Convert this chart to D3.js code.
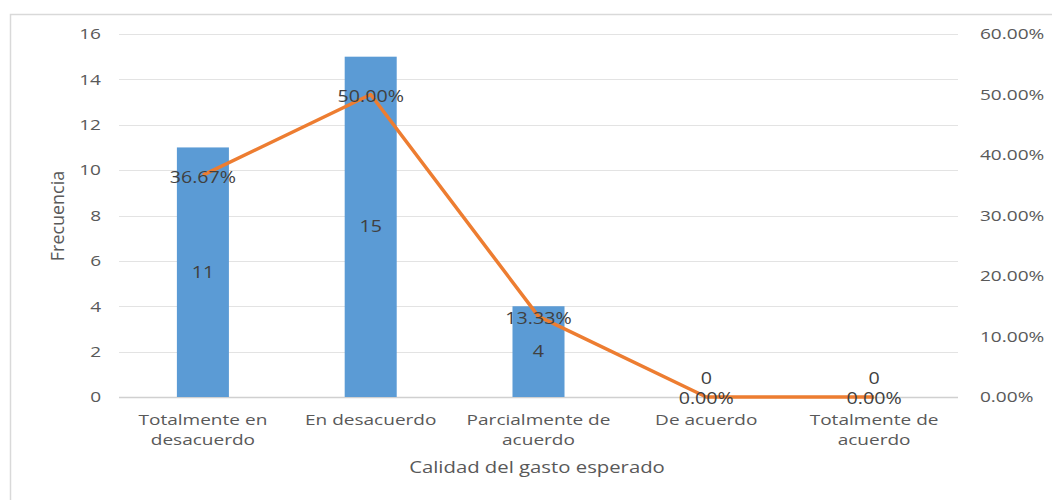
<!DOCTYPE html>
<html><head><meta charset="utf-8">
<script src="https://cdn.jsdelivr.net/npm/d3@7"></script>
<style>body{margin:0;background:#fff}svg{font-family:"Open Sans","Liberation Sans",sans-serif}</style>
</head><body><svg id="c" width="1052" height="500"></svg>
<script>
const categories = [["Totalmente en","desacuerdo"],["En desacuerdo"],["Parcialmente de","acuerdo"],["De acuerdo"],["Totalmente de","acuerdo"]];
const frecuencia = [11, 15, 4, 0, 0];
const porcentaje = [0.3667, 0.5, 0.1333, 0, 0];
const leftTicks = [0, 2, 4, 6, 8, 10, 12, 14, 16];
const rightTicks = [0, 0.1, 0.2, 0.3, 0.4, 0.5, 0.6];

const S = 1.27; // horizontal stretch of the reference's text
function stretch(sel){
  sel.each(function(){
    const t = d3.select(this);
    const x = +t.attr("x") || 0;
    t.attr("transform",`translate(${x*(1-S)},0) scale(${S},1)`);
  });
}

const svg = d3.select("#c");
const m = {l:119, r:958, t:34, b:397};
svg.append("rect").attr("x",10.5).attr("y",14.5).attr("width",1060).attr("height",500)
  .attr("fill","none").attr("stroke","#d9d9d9").attr("stroke-width",1.5);

const x = d3.scaleBand().domain(d3.range(categories.length)).range([m.l,m.r]).paddingInner(0.69).paddingOuter(0.345);
const y = d3.scaleLinear().domain([0,16]).range([m.b,m.t]);
const y2 = d3.scaleLinear().domain([0,0.6]).range([m.b,m.t]);
const xc = i => x(i) + x.bandwidth()/2;

// gridlines
svg.append("g").selectAll("line").data(leftTicks).join("line")
  .attr("x1",m.l).attr("x2",m.r).attr("y1",d=>Math.round(y(d))+0.5).attr("y2",d=>Math.round(y(d))+0.5)
  .attr("stroke",d=>d===0?"#d0d0d0":"#e3e3e3").attr("stroke-width",d=>d===0?1.5:1);

// left axis
const gl = svg.append("g").attr("transform",`translate(${m.l},0)`)
  .call(d3.axisLeft(y).tickValues(leftTicks).tickSize(0).tickPadding(18));
gl.select(".domain").remove();
gl.selectAll("text").attr("fill","#595959").attr("font-size",15).attr("font-family","'Open Sans',sans-serif").call(stretch);

// right axis
const gr = svg.append("g").attr("transform",`translate(${m.r},0)`)
  .call(d3.axisRight(y2).tickValues(rightTicks).tickSize(0).tickPadding(22).tickFormat(d3.format(".2%")));
gr.select(".domain").remove();
gr.selectAll("text").attr("fill","#595959").attr("font-size",15).attr("font-family","'Open Sans',sans-serif").call(stretch);

// bars
svg.append("g").selectAll("rect").data(frecuencia).join("rect")
  .attr("x",(d,i)=>x(i)).attr("width",x.bandwidth())
  .attr("y",d=>y(d)).attr("height",d=>y(0)-y(d))
  .attr("fill","#5B9BD5");

// line
svg.append("path").datum(porcentaje)
  .attr("d",d3.line().x((d,i)=>xc(i)).y(d=>y2(d)))
  .attr("fill","none").attr("stroke","#ED7D31").attr("stroke-width",3.5).attr("stroke-linejoin","round");

// bar labels
svg.append("g").selectAll("text").data(frecuencia).join("text")
  .attr("x",(d,i)=>xc(i)).attr("y",d=>d===0?y(0)-18:(y(d)+y(0))/2)
  .attr("dy","0.35em").attr("text-anchor","middle").attr("fill","#404040").attr("font-size",15.5)
  .text(d=>d).call(stretch);

// line labels
svg.append("g").selectAll("text").data(porcentaje).join("text")
  .attr("x",(d,i)=>xc(i)).attr("y",d=>y2(d)+2)
  .attr("dy","0.35em").attr("text-anchor","middle").attr("fill","#404040").attr("font-size",15.5)
  .text(d=>d3.format(".2%")(d)).call(stretch);

// category labels
const cl = svg.append("g").selectAll("text").data(categories).join("text")
  .attr("text-anchor","middle").attr("fill","#595959").attr("font-size",15);
cl.each(function(lines,i){
  d3.select(this).attr("x",xc(i)).selectAll("tspan").data(lines).join("tspan")
    .attr("x",xc(i)).attr("y",(d,j)=>425+j*20).text(d=>d);
});
cl.call(stretch);

// axis titles
svg.append("text").attr("x",537).attr("y",473).attr("text-anchor","middle")
  .attr("fill","#595959").attr("font-size",16).text("Calidad del gasto esperado").call(stretch);
svg.append("text").attr("transform","translate(64,216) rotate(-90) scale(1.12,1.15)").attr("text-anchor","middle")
  .attr("fill","#595959").attr("font-size",16).text("Frecuencia");
</script></body></html>
